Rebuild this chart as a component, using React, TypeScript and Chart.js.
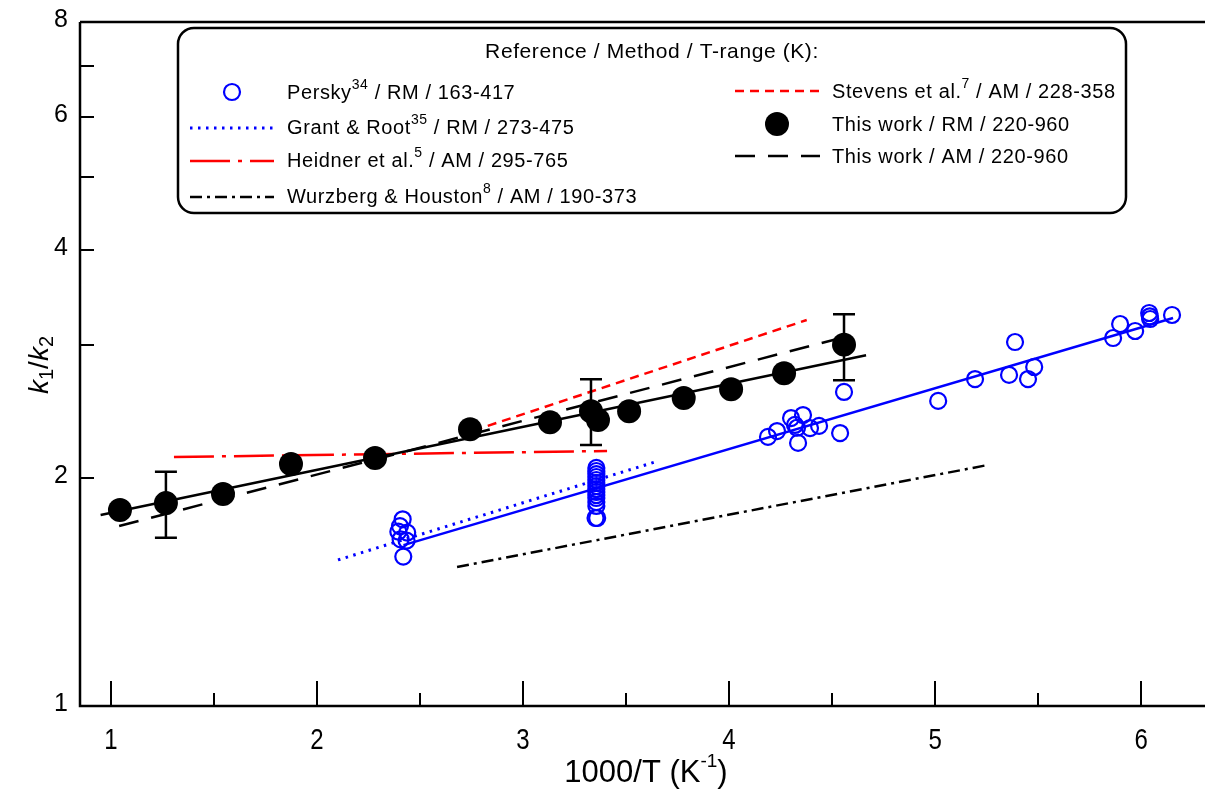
import React, { useEffect, useRef } from "react";
import { Chart, registerables } from "chart.js";
Chart.register(...registerables);

// ---- Data ----
const thisWorkX = [1.044, 1.267, 1.544, 1.874, 2.282, 2.743, 3.131, 3.33, 3.364, 3.515, 3.78, 4.01, 4.267, 4.558];
const thisWorkY = [1.815, 1.853, 1.905, 2.087, 2.125, 2.32, 2.37, 2.45, 2.386, 2.45, 2.55, 2.62, 2.75, 3.0];

const errX = [1.267, 3.33, 4.558];
const errLow = [1.668, 2.211, 2.692];
const errHigh = [2.039, 2.7, 3.29];

const perskyX = [
  2.416, 2.403, 2.395, 2.438, 2.406, 2.435, 2.419,
  3.356, 3.356, 3.356, 3.356, 3.356, 3.356, 3.356, 3.356, 3.356, 3.356, 3.356, 3.356, 3.356, 3.352, 3.36,
  4.189, 4.233, 4.301, 4.359, 4.32, 4.33, 4.335, 4.393, 4.437, 4.539, 4.558,
  5.015, 5.194, 5.359, 5.388, 5.451, 5.481, 5.864, 5.898, 5.971, 6.039, 6.044, 6.042, 6.15,
];
const perskyY = [
  1.764, 1.728, 1.699, 1.694, 1.66, 1.653, 1.575,
  2.062, 2.043, 2.024, 2.006, 1.988, 1.97, 1.952, 1.934, 1.917, 1.899, 1.882, 1.859, 1.837, 1.771, 1.771,
  2.266, 2.307, 2.4, 2.422, 2.35, 2.33, 2.225, 2.328, 2.343, 2.293, 2.598,
  2.528, 2.702, 2.736, 3.024, 2.702, 2.803, 3.061, 3.194, 3.127, 3.303, 3.243, 3.27, 3.283,
];

const perskyFitX = [2.42, 6.155];
const perskyFitY = [1.631, 3.253];
const grantX = [2.102, 3.641];
const grantY = [1.559, 2.1];
const heidnerX = [1.306, 3.408];
const heidnerY = [2.132, 2.171];
const wurzX = [2.68, 5.257];
const wurzY = [1.526, 2.081];
const stevensX = [2.76, 4.377];
const stevensY = [2.31, 3.233];
const twFitX = [0.95, 4.665];
const twFitY = [1.787, 2.904];
const twAmX = [1.04, 4.56];
const twAmY = [1.728, 3.07];

const xMajorTicks = [1, 2, 3, 4, 5, 6];
const xMinorTicks = [1.5, 2.5, 3.5, 4.5, 5.5];
const yTickMarks = [2, 3, 4, 5, 6, 7];
const yTickLabels = [1, 2, 4, 6, 8];

const legendTitle = "Reference / Method / T-range (K):";

const BLUE = "#0000ff";
const RED = "#ff0000";

const pts = (xs: number[], ys: number[]) => xs.map((x, i) => ({ x, y: ys[i] }));

const lineDs = (label: string, xs: number[], ys: number[], color: string, dash: number[], width = 2.5) => ({
  type: "line" as const,
  label,
  data: pts(xs, ys),
  borderColor: color,
  backgroundColor: color,
  borderWidth: width,
  borderDash: dash,
  pointRadius: 0,
  showLine: true,
  fill: false,
  tension: 0,
});

const FONT = '"Liberation Sans", Arial, sans-serif';
const LEG = 20;

function drawRich(ctx: CanvasRenderingContext2D, parts: { t: string; sup?: boolean }[], x: number, y: number, size: number) {
  let cx = x;
  for (const p of parts) {
    if (p.sup) {
      ctx.font = `${Math.round(size * 0.72)}px ${FONT}`;
      ctx.fillText(p.t, cx, y - size * 0.38);
    } else {
      ctx.font = `${size}px ${FONT}`;
      ctx.fillText(p.t, cx, y);
    }
    cx += ctx.measureText(p.t).width;
  }
}

const decorPlugin = {
  id: "decor",
  afterDatasetsDraw(chart: any) {
    const ctx: CanvasRenderingContext2D = chart.ctx;
    const xs = chart.scales.x;
    const ys = chart.scales.y;
    ctx.save();
    ctx.strokeStyle = "#000";
    ctx.lineWidth = 2.5;
    errX.forEach((ex, i) => {
      const px = xs.getPixelForValue(ex);
      const p1 = ys.getPixelForValue(errLow[i]);
      const p2 = ys.getPixelForValue(errHigh[i]);
      ctx.beginPath();
      ctx.moveTo(px, p1);
      ctx.lineTo(px, p2);
      ctx.moveTo(px - 11, p1);
      ctx.lineTo(px + 11, p1);
      ctx.moveTo(px - 11, p2);
      ctx.lineTo(px + 11, p2);
      ctx.stroke();
    });
    ctx.restore();
  },
  afterDraw(chart: any) {
    const ctx: CanvasRenderingContext2D = chart.ctx;
    const xs = chart.scales.x;
    const ys = chart.scales.y;
    const a = chart.chartArea;
    ctx.save();
    ctx.strokeStyle = "#000";
    ctx.fillStyle = "#000";
    ctx.lineWidth = 2.5;
    ctx.beginPath();
    ctx.moveTo(a.left, a.top);
    ctx.lineTo(a.left, a.bottom);
    ctx.lineTo(a.right, a.bottom);
    ctx.moveTo(a.left, a.top);
    ctx.lineTo(a.right, a.top);
    ctx.stroke();

    ctx.lineWidth = 2;
    yTickMarks.forEach((v) => {
      const py = Math.round(ys.getPixelForValue(v));
      ctx.beginPath();
      ctx.moveTo(a.left, py);
      ctx.lineTo(a.left + 14, py);
      ctx.stroke();
    });
    xMajorTicks.forEach((v) => {
      const px = Math.round(xs.getPixelForValue(v));
      ctx.beginPath();
      ctx.moveTo(px, a.bottom);
      ctx.lineTo(px, a.bottom - 25);
      ctx.stroke();
    });
    xMinorTicks.forEach((v) => {
      const px = Math.round(xs.getPixelForValue(v));
      ctx.beginPath();
      ctx.moveTo(px, a.bottom);
      ctx.lineTo(px, a.bottom - 13);
      ctx.stroke();
    });

    ctx.font = `25px ${FONT}`;
    ctx.textAlign = "right";
    ctx.textBaseline = "middle";
    yTickLabels.forEach((v) => {
      const py = ys.getPixelForValue(v);
      ctx.fillText(String(v), 68, py - 2);
    });

    ctx.textAlign = "center";
    xMajorTicks.forEach((v) => {
      const px = xs.getPixelForValue(v);
      ctx.save();
      ctx.translate(px, 741);
      ctx.scale(0.8, 1);
      ctx.font = `30px ${FONT}`;
      ctx.fillText(String(v), 0, 0);
      ctx.restore();
    });

    // x title
    ctx.save();
    ctx.translate(646, 773);
    ctx.textAlign = "left";
    const base = 31;
    ctx.font = `${base}px ${FONT}`;
    const t1 = "1000/T (K";
    const w1 = ctx.measureText(t1).width;
    ctx.font = `${Math.round(base * 0.62)}px ${FONT}`;
    const t2 = "-1";
    const w2 = ctx.measureText(t2).width;
    ctx.font = `${base}px ${FONT}`;
    const w3 = ctx.measureText(")").width;
    let sx = -(w1 + w2 + w3) / 2;
    ctx.fillText(t1, sx, 0);
    sx += w1;
    ctx.font = `${Math.round(base * 0.62)}px ${FONT}`;
    ctx.fillText(t2, sx, -11);
    sx += w2;
    ctx.font = `${base}px ${FONT}`;
    ctx.fillText(")", sx, 0);
    ctx.restore();

    // y title k1/k2
    ctx.save();
    ctx.translate(40, 365);
    ctx.rotate(-Math.PI / 2);
    ctx.textAlign = "left";
    ctx.textBaseline = "middle";
    const ys0 = 28;
    const segs: { t: string; it?: boolean; sub?: boolean }[] = [
      { t: "k", it: true },
      { t: "1", sub: true },
      { t: "/" },
      { t: "k", it: true },
      { t: "2", sub: true },
    ];
    const fontFor = (s: any) =>
      s.sub ? `${Math.round(ys0 * 0.7)}px ${FONT}` : `${s.it ? "italic " : ""}${ys0}px ${FONT}`;
    let tw = 0;
    segs.forEach((s) => {
      ctx.font = fontFor(s);
      tw += ctx.measureText(s.t).width;
    });
    let cx = -tw / 2;
    segs.forEach((s) => {
      ctx.font = fontFor(s);
      ctx.fillText(s.t, cx, s.sub ? 7 : 0);
      cx += ctx.measureText(s.t).width;
    });
    ctx.restore();

    // legend box
    const bx = 178, by = 28, bw = 948, bh = 185, r = 16;
    ctx.fillStyle = "#fff";
    ctx.strokeStyle = "#000";
    ctx.lineWidth = 2.5;
    ctx.beginPath();
    ctx.roundRect(bx, by, bw, bh, r);
    ctx.fill();
    ctx.stroke();

    ctx.fillStyle = "#000";
    ctx.textBaseline = "middle";
    ctx.textAlign = "center";
    (ctx as any).letterSpacing = "0.6px";
    ctx.font = `21px ${FONT}`;
    ctx.fillText(legendTitle, 652, 52);
    ctx.textAlign = "left";

    const legLine = (x1: number, x2: number, y: number, color: string, dash: number[], w = 2.5) => {
      ctx.save();
      ctx.strokeStyle = color;
      ctx.lineWidth = w;
      ctx.setLineDash(dash);
      ctx.beginPath();
      ctx.moveTo(x1, y);
      ctx.lineTo(x2, y);
      ctx.stroke();
      ctx.restore();
    };

    ctx.save();
    ctx.strokeStyle = BLUE;
    ctx.lineWidth = 2.2;
    ctx.beginPath();
    ctx.arc(232, 92, 8, 0, Math.PI * 2);
    ctx.stroke();
    ctx.restore();
    drawRich(ctx, [{ t: "Persky" }, { t: "34", sup: true }, { t: " / RM / 163-417" }], 287, 93, LEG);

    legLine(190, 274, 128, BLUE, [2.5, 5.5], 3);
    drawRich(ctx, [{ t: "Grant & Root" }, { t: "35", sup: true }, { t: " / RM / 273-475" }], 287, 128, LEG);

    legLine(190, 274, 161, RED, [40, 8, 4, 8]);
    drawRich(ctx, [{ t: "Heidner et al." }, { t: "5", sup: true }, { t: " / AM / 295-765" }], 287, 161, LEG);

    legLine(190, 274, 197, "#000", [12, 5, 3, 5]);
    drawRich(ctx, [{ t: "Wurzberg & Houston" }, { t: "8", sup: true }, { t: " / AM / 190-373" }], 287, 197, LEG);

    legLine(735, 820, 91, RED, [9, 6]);
    drawRich(ctx, [{ t: "Stevens et al." }, { t: "7", sup: true }, { t: " / AM / 228-358" }], 832, 92, LEG);

    ctx.beginPath();
    ctx.arc(777, 124, 12, 0, Math.PI * 2);
    ctx.fill();
    drawRich(ctx, [{ t: "This work / RM / 220-960" }], 832, 125, LEG);

    legLine(735, 820, 156, "#000", [20, 13]);
    drawRich(ctx, [{ t: "This work / AM / 220-960" }], 832, 157, LEG);

    ctx.restore();
  },
};

export default function App() {
  const ref = useRef<HTMLCanvasElement | null>(null);
  useEffect(() => {
    if (!ref.current) return;
    const chart = new Chart(ref.current, {
      type: "scatter",
      data: {
        datasets: [
          {
            type: "scatter",
            label: "This work / RM / 220-960",
            data: pts(thisWorkX, thisWorkY),
            backgroundColor: "#000",
            borderColor: "#000",
            pointRadius: 12,
            borderWidth: 0,
          } as any,
          {
            type: "scatter",
            label: "Persky",
            data: pts(perskyX, perskyY),
            backgroundColor: "rgba(0,0,0,0)",
            borderColor: BLUE,
            pointRadius: 8,
            borderWidth: 2.2,
          } as any,
          lineDs("This work fit", twFitX, twFitY, "#000", [], 2.5),
          lineDs("This work / AM", twAmX, twAmY, "#000", [20, 13], 2.5),
          lineDs("Stevens", stevensX, stevensY, RED, [9, 6], 2.5),
          lineDs("Heidner", heidnerX, heidnerY, RED, [40, 8, 4, 8], 2.5),
          lineDs("Grant & Root", grantX, grantY, BLUE, [2.5, 5.5], 3),
          lineDs("Persky fit", perskyFitX, perskyFitY, BLUE, [], 2.5),
          lineDs("Wurzberg", wurzX, wurzY, "#000", [12, 5, 3, 5], 2.5),
        ] as any,
      },
      options: {
        animation: false,
        responsive: false,
        maintainAspectRatio: false,
        events: [],
        layout: { autoPadding: false, padding: { left: 80, top: 22, right: 0, bottom: 88 } },
        plugins: { legend: { display: false }, tooltip: { enabled: false } },
        scales: {
          x: { type: "linear", min: 0.85, max: 6.31, display: false },
          y: { type: "logarithmic", min: 1, max: 8, display: false },
        },
      },
      plugins: [decorPlugin],
    });
    return () => chart.destroy();
  }, []);
  return (
    <div style={{ position: "fixed", left: 0, top: 0, width: 1205, height: 794, background: "#fff" }}>
      <canvas ref={ref} width={1205} height={794} style={{ display: "block", width: 1205, height: 794 }} />
    </div>
  );
}
